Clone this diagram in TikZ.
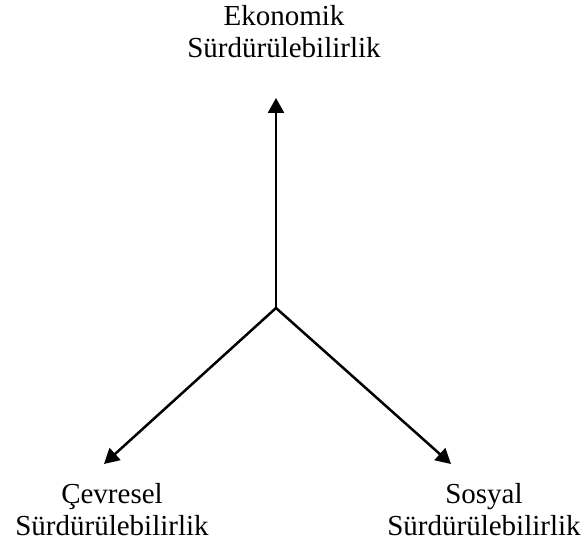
\documentclass[tikz,border=0pt]{standalone}
\usepackage{fontspec}
\setmainfont{Liberation Serif}
\usetikzlibrary{arrows.meta}
\begin{document}
\begin{tikzpicture}[x=1bp,y=-1bp,
  lbl/.style={align=center,inner sep=0pt,anchor=base,font=\fontsize{29bp}{32bp}\selectfont},
  arr/.style={line width=2.5bp,-{Triangle[length=15bp,width=16bp]}}]
\useasboundingbox (0,0) rectangle (583,549);
\coordinate (o) at (276,308);
\coordinate (te) at (276,98);
\coordinate (tc) at (104,464);
\coordinate (ts) at (451,464);
\node[lbl] (eko) at (284,58) {Ekonomik\\Sürdürülebilirlik};
\node[lbl] (cev) at (112,535) {Çevresel\\Sürdürülebilirlik};
\node[lbl] (sos) at (484,535) {Sosyal\\Sürdürülebilirlik};
\draw[arr] (o) -- (te);
\draw[arr] (o) -- (tc);
\draw[arr] (o) -- (ts);
\end{tikzpicture}
\end{document}
